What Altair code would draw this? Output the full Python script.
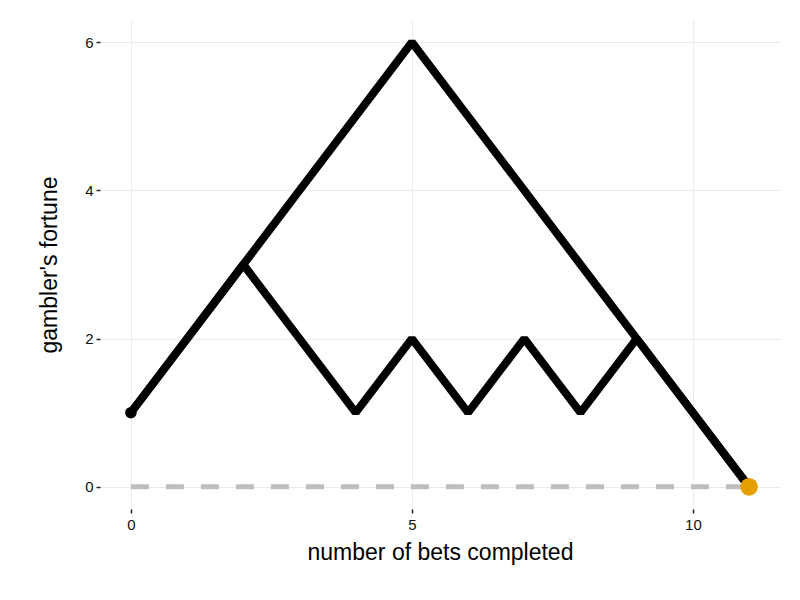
import altair as alt
import pandas as pd

bets = list(range(12))
path_high = [1, 2, 3, 4, 5, 6, 5, 4, 3, 2, 1, 0]
path_low = [1, 2, 3, 2, 1, 2, 1, 2, 1, 2, 1, 0]
x_ticks = [0, 5, 10]
y_ticks = [0, 2, 4, 6]

paths = pd.DataFrame({
    "bet": bets + bets,
    "fortune": path_high + path_low,
    "path": ["high"] * len(bets) + ["low"] * len(bets),
})
ruin = pd.DataFrame({"bet": [0, 11], "fortune": [0, 0]})
start = pd.DataFrame({"bet": [0], "fortune": [1]})
end = pd.DataFrame({"bet": [11], "fortune": [0]})

xs = alt.Scale(domain=[-0.55, 11.55], nice=False, zero=False)
ys = alt.Scale(domain=[-0.3, 6.3], nice=False, zero=False)

xax = alt.Axis(values=x_ticks, title="number of bets completed", titleX=340, titleY=50,
               titleBaseline="alphabetic", labelPadding=4)
yax = alt.Axis(values=y_ticks, title="gambler's fortune", titleX=-44, titleY=244.5,
               titleBaseline="alphabetic", labelPadding=3)

X = alt.X("bet:Q", scale=xs, axis=xax)
Y = alt.Y("fortune:Q", scale=ys, axis=yax)

dash = alt.Chart(ruin).mark_line(color="#BEBEBE", strokeWidth=5, strokeDash=[18, 17]).encode(x=X, y=Y)
lines = alt.Chart(paths).mark_line(color="black", strokeWidth=8, strokeJoin="bevel").encode(
    x=X, y=Y, detail="path:N", order="bet:Q")
p0 = alt.Chart(start).mark_circle(color="black", opacity=1, size=133).encode(x=X, y=Y)
p1 = alt.Chart(end).mark_circle(color="#E69F00", opacity=1, size=314).encode(x=X, y=Y)

chart = alt.layer(dash, lines, p0, p1).properties(
    width=680, height=489,
    autosize=alt.AutoSizeParams(type="none"),
    padding={"left": 92, "top": 12, "right": 10, "bottom": 80},
).configure_view(stroke=None).configure_axis(
    domain=False,
    grid=True,
    gridColor="#EBEBEB",
    gridWidth=1,
    tickColor="#222222",
    tickSize=4,
    tickWidth=1.5,
    labelFont="Liberation Sans",
    labelFontSize=15,
    labelColor="#111111",
    titleFont="Liberation Sans",
    titleFontSize=23,
    titleFontWeight="normal",
    titleColor="black",
)

chart.save("out.html", embed_options={"renderer": "svg", "actions": False})
